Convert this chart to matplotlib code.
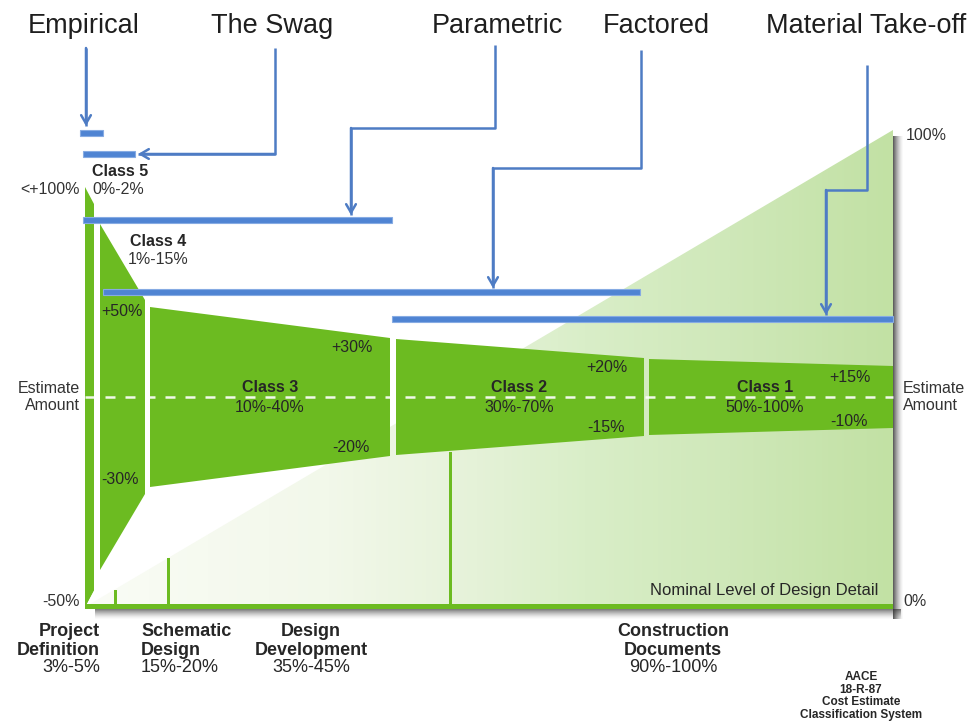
import numpy as np
import matplotlib
matplotlib.use("Agg")
import matplotlib.pyplot as plt
from matplotlib.patches import Polygon, Rectangle
from matplotlib.colors import LinearSegmentedColormap

# ---------------- data ----------------
methods = ["Empirical", "The Swag", "Parametric", "Factored", "Material Take-off"]
classes = ["Class 5", "Class 4", "Class 3", "Class 2", "Class 1"]
maturity = ["0%-2%", "1%-15%", "10%-40%", "30%-70%", "50%-100%"]
upper_labels = ["+50%", "+30%", "+20%", "+15%"]
lower_labels = ["-30%", "-20%", "-15%", "-10%"]
stages = ["Project\nDefinition", "Schematic\nDesign", "Design\nDevelopment", "Construction\nDocuments"]
stage_ranges = ["3%-5%", "15%-20%", "35%-45%", "90%-100%"]

# ---------------- layout (schematic, pixel space) ----------------
X0, X1, YC, YB, YT = 85, 893, 397, 607, 130
# class segments: x-start, x-end, half-spread start, half-spread end
seg_x0 = [85, 100, 150, 396, 649]
seg_x1 = [94, 145, 390, 644, 893]
seg_s0 = [210, 173, 90, 58, 38]
seg_s1 = [193, 97, 59, 39, 31]
# method bars: x-start, x-end, y
bar_x0 = [80, 83, 83, 103, 392]
bar_x1 = [103, 135, 392, 640, 893]
bar_y = [133, 154, 220, 292, 319]
label_x = [84, 272, 497, 656, 866]
# connector paths
paths = [
    [(86, 48), (86, 126)],
    [(275, 48), (275, 154), (138, 154)],
    [(495, 45), (495, 128), (351, 128), (351, 215)],
    [(641, 50), (641, 168), (493, 168), (493, 288)],
    [(867, 65), (867, 190), (826, 190), (826, 315)],
]
stage_mark_x = [115, 168, 450]
stage_mark_top = [590, 558, 452]

GREEN = "#6cbb21"
BLUE = "#4f84d3"
LINE_BLUE = "#4e7cc4"
TXT = "#262626"

fig = plt.figure(figsize=(9.77, 7.21), dpi=100)
ax = fig.add_axes([0, 0, 1, 1])
ax.set_xlim(0, 977)
ax.set_ylim(721, 0)
ax.axis("off")

# shadow right & bottom
n = 10
for i in range(n):
    a = 0.75 * (1 - i / n) ** 1.5
    ax.add_patch(Rectangle((X1 + i, YT + 6), 1, YB - YT + 6, color="#2a2a2a", alpha=a, lw=0, zorder=0.5))
    ax.add_patch(Rectangle((X0 + 10, YB + 2 + i), X1 - X0 - 2, 1, color="#2a2a2a", alpha=a * 0.8, lw=0, zorder=0.5))

# light gradient triangle
tri = Polygon([(X0, YB), (X1, YT), (X1, YB)], closed=True, facecolor="none", edgecolor="none")
ax.add_patch(tri)
cmap = LinearSegmentedColormap.from_list(
    "g", [(0, "#fafcf6"), (0.3, "#f2f8ea"), (0.45, "#e8f3dc"), (0.62, "#d9eec8"),
          (0.8, "#cfe8b9"), (1.0, "#c2e1a4")])
grad = np.linspace(0, 1, 400)[None, :]
im = ax.imshow(grad, extent=(X0, X1, YB, YT), cmap=cmap, aspect="auto", zorder=1, interpolation="bilinear")
im.set_clip_path(tri)
ax.set_xlim(0, 977)
ax.set_ylim(721, 0)

# bottom green line
ax.add_patch(Rectangle((X0, YB - 3), X1 - X0, 5, color=GREEN, lw=0, zorder=3))
# stage markers
for mx, mt in zip(stage_mark_x, stage_mark_top):
    ax.add_patch(Rectangle((mx - 1.5, mt), 3.5, YB - mt, color=GREEN, lw=0, zorder=3))

# funnel segments
for x0, x1, s0, s1 in zip(seg_x0, seg_x1, seg_s0, seg_s1):
    ax.add_patch(Polygon([(x0, YC - s0), (x1, YC - s1), (x1, YC + s1), (x0, YC + s0)],
                         closed=True, facecolor=GREEN, edgecolor="none", zorder=2))
# class 5 strip goes to the baseline
ax.add_patch(Polygon([(X0, YC + 150), (seg_x1[0], YC + 150), (seg_x1[0], YB - 17), (X0, YB)],
                     closed=True, facecolor=GREEN, edgecolor="none", zorder=2))

# dashed estimate line
ax.plot([X0, X1], [YC, YC], color="white", lw=1.8, ls=(0, (4, 4)), zorder=4, alpha=0.9)

# method bars
for x0, x1, y in zip(bar_x0, bar_x1, bar_y):
    ax.add_patch(Rectangle((x0, y - 3), x1 - x0, 6, facecolor=BLUE, edgecolor="#86abe3", lw=0.8, zorder=6))

# connectors with arrowheads
for p in paths:
    xs, ys = zip(*p)
    ax.plot(xs, ys, color=LINE_BLUE, lw=1.8, zorder=6, solid_capstyle="butt")
    (xa, ya), (xb, yb) = p[-2], p[-1]
    ax.annotate("", xy=(xb, yb), xytext=(xa, ya),
                arrowprops=dict(arrowstyle="->,head_length=0.6,head_width=0.35", color=LINE_BLUE, lw=1.8,
                                shrinkA=0, shrinkB=0), zorder=7)

# method labels
for name, lx in zip(methods, label_x):
    ax.text(lx, 26, name, ha="center", va="center", fontsize=19.5, color="#1e1e1e", family="Liberation Sans")

FS = "Liberation Sans"
# class labels
ax.text(92, 172, classes[0], fontsize=11.5, fontweight="bold", color=TXT, va="center", family=FS)
ax.text(92, 190, maturity[0], fontsize=11.5, color="#333333", va="center", family=FS)
ax.text(130, 241, classes[1], fontsize=11.5, fontweight="bold", color=TXT, va="center", family=FS)
ax.text(128, 259, maturity[1], fontsize=11.5, color="#333333", va="center", family=FS)
cls_cx = [270, 519, 765]
for i, cx in enumerate(cls_cx):
    ax.text(cx, 388, classes[i + 2], fontsize=11.5, fontweight="bold", color=TXT, ha="center", va="center", family=FS, zorder=8)
    ax.text(cx, 408, maturity[i + 2], fontsize=11.5, color=TXT, ha="center", va="center", family=FS, zorder=8)

up_pos = [(122, 312), (352, 348), (607, 368), (850, 377)]
lo_pos = [(120, 480), (351, 448), (606, 428), (849, 422)]
for t, (x, y) in zip(upper_labels, up_pos):
    ax.text(x, y, t, fontsize=11.5, color=TXT, ha="center", va="center", family=FS, zorder=8)
for t, (x, y) in zip(lower_labels, lo_pos):
    ax.text(x, y, t, fontsize=11.5, color=TXT, ha="center", va="center", family=FS, zorder=8)

# axis annotations
ax.text(80, 190, "<+100%", fontsize=11.5, color="#333333", ha="right", va="center", family=FS)
ax.text(80, 602, "-50%", fontsize=11.5, color="#333333", ha="right", va="center", family=FS)
ax.text(80, 397, "Estimate\nAmount", fontsize=11.5, color="#333333", ha="right", va="center", family=FS, linespacing=1.2)
ax.text(903, 397, "Estimate\nAmount", fontsize=11.5, color="#333333", ha="left", va="center", family=FS, linespacing=1.2)
ax.text(906, 135, "100%", fontsize=11.5, color="#333333", ha="left", va="center", family=FS)
ax.text(903, 602, "0%", fontsize=11.5, color="#333333", ha="left", va="center", family=FS)
ax.text(878, 590, "Nominal Level of Design Detail", fontsize=12, color=TXT, ha="right", va="center", family=FS, zorder=8)

# stage labels
stage_x = [100, 141, 311, 673]
stage_ha = ["right", "left", "center", "center"]
for s, r, sx, ha in zip(stages, stage_ranges, stage_x, stage_ha):
    ax.text(sx, 641, s, fontsize=13, fontweight="bold", color=TXT, ha=ha, va="center", family=FS, linespacing=1.2)
    ax.text(sx, 668, r, fontsize=13, color=TXT, ha=ha, va="center", family=FS)

ax.text(861, 696, "AACE\n18-R-87\nCost Estimate\nClassification System", fontsize=8.5, fontweight="bold",
        color=TXT, ha="center", va="center", family=FS, linespacing=1.05)

fig.savefig("out.png", dpi=100)
